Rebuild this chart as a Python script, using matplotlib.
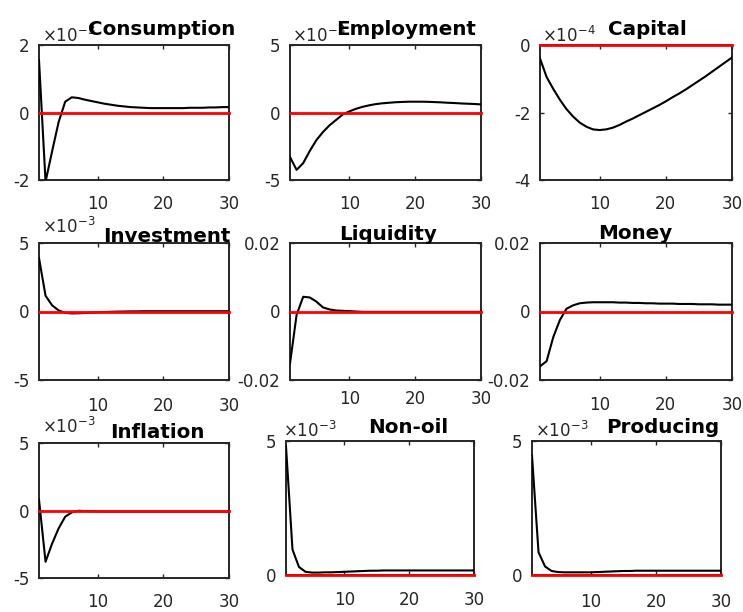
import numpy as np
import matplotlib
matplotlib.use("Agg")
import matplotlib.pyplot as plt

plt.rcParams["font.family"] = ["DejaVu Sans"]
plt.rcParams["axes.unicode_minus"] = False

# ---------------- data (impulse responses, horizon 1..30) ----------------
horizon = np.arange(1, 31)

# values in units of the panel's exponent (x10^-3, x10^-4, or raw)
consumption = [1.55, -2.05, -1.15, -0.28, 0.32, 0.45, 0.43, 0.38, 0.34, 0.30,
               0.26, 0.23, 0.20, 0.18, 0.16, 0.15, 0.14, 0.13, 0.13, 0.13,
               0.13, 0.13, 0.13, 0.14, 0.14, 0.14, 0.15, 0.15, 0.16, 0.16]
employment = [-3.3, -4.25, -3.75, -2.85, -2.05, -1.45, -0.95, -0.55, -0.15, 0.08,
              0.27, 0.42, 0.53, 0.62, 0.68, 0.72, 0.76, 0.78, 0.80, 0.80,
              0.80, 0.79, 0.77, 0.75, 0.72, 0.70, 0.67, 0.65, 0.63, 0.60]
capital = [-0.40, -0.95, -1.30, -1.62, -1.90, -2.12, -2.30, -2.42, -2.50, -2.52,
           -2.50, -2.45, -2.37, -2.27, -2.18, -2.08, -1.98, -1.88, -1.78, -1.67,
           -1.55, -1.44, -1.32, -1.19, -1.06, -0.93, -0.79, -0.65, -0.51, -0.37]
investment = [3.9, 1.15, 0.45, 0.08, -0.10, -0.14, -0.13, -0.11, -0.08, -0.06,
              -0.04, -0.02, -0.01, 0.00, 0.01, 0.01, 0.02, 0.02, 0.02, 0.02,
              0.02, 0.02, 0.02, 0.02, 0.02, 0.02, 0.02, 0.02, 0.02, 0.02]
liquidity = [-0.0152, -0.0010, 0.0043, 0.0041, 0.0029, 0.0012, 0.0006, 0.0003, 0.0002, 0.0001,
             0.0, -0.0001, -0.0001, -0.0001, -0.0001, -0.0001, -0.0001, -0.0001, -0.0001, -0.0001,
             -0.0001, -0.0001, -0.0001, -0.0001, -0.0001, -0.0001, -0.0001, -0.0001, -0.0001, -0.0001]
money = [-0.0160, -0.0145, -0.0075, -0.0025, 0.0008, 0.0018, 0.0024, 0.0026, 0.0027, 0.0027,
         0.0027, 0.0027, 0.0026, 0.0026, 0.0025, 0.0025, 0.0024, 0.0024, 0.0023, 0.0023,
         0.0023, 0.0022, 0.0022, 0.0022, 0.0021, 0.0021, 0.0021, 0.0020, 0.0020, 0.0020]
inflation = [0.8, -3.8, -2.45, -1.32, -0.46, -0.14, -0.02, -0.04, -0.06, -0.07,
             -0.08, -0.08, -0.08, -0.08, -0.08, -0.08, -0.08, -0.08, -0.08, -0.08,
             -0.08, -0.08, -0.08, -0.08, -0.08, -0.08, -0.08, -0.08, -0.08, -0.08]
non_oil = [4.8, 0.95, 0.30, 0.12, 0.09, 0.09, 0.10, 0.10, 0.11, 0.12,
           0.13, 0.14, 0.15, 0.16, 0.16, 0.17, 0.17, 0.17, 0.17, 0.17,
           0.17, 0.17, 0.17, 0.17, 0.17, 0.17, 0.17, 0.17, 0.17, 0.17]
producing = [4.45, 0.85, 0.32, 0.15, 0.11, 0.10, 0.10, 0.10, 0.10, 0.10,
             0.11, 0.12, 0.13, 0.14, 0.15, 0.15, 0.16, 0.16, 0.16, 0.16,
             0.16, 0.16, 0.16, 0.16, 0.16, 0.16, 0.16, 0.16, 0.16, 0.16]

titles = ["Consumption", "Employment", "Capital",
          "Investment", "Liquidity", "Money",
          "Inflation", "Non-oil", "Producing"]
series = [consumption, employment, capital,
          investment, liquidity, money,
          inflation, non_oil, producing]
y_limits = [(-2, 2), (-5, 5), (-4, 0),
            (-5, 5), (-0.02, 0.02), (-0.02, 0.02),
            (-5, 5), (0, 5), (0, 5)]
y_ticks = [[-2, 0, 2], [-5, 0, 5], [-4, -2, 0],
           [-5, 0, 5], [-0.02, 0, 0.02], [-0.02, 0, 0.02],
           [-5, 0, 5], [0, 5], [0, 5]]
y_tick_labels = [["-2", "0", "2"], ["-5", "0", "5"], ["-4", "-2", "0"],
                 ["-5", "0", "5"], ["-0.02", "0", "0.02"], ["-0.02", "0", "0.02"],
                 ["-5", "0", "5"], ["0", "5"], ["0", "5"]]
exponents = ["-3", "-3", "-4", "-3", None, None, "-3", "-3", "-3"]
x_ticks = [10, 20, 30]

# ---------------- layout (pixels in a 743x612 canvas) ----------------
W, H = 743, 612
axes_px = [(39, 45, 229, 180), (290, 45, 481, 180), (540, 45, 732, 180),
           (39, 243, 229, 380), (290, 243, 481, 380), (540, 243, 732, 380),
           (39, 443, 229, 578), (286, 441, 474, 575), (532, 441, 721, 575)]
title_px = [(162, 35), (406, 35), (647, 35),
            (167, 242), (388, 240), (635, 239),
            (157, 438), (408, 433), (663, 433)]
exp_px = [(42, 42), (292, 42), (542, 42),
          (42, 233), None, None,
          (42, 433), (283, 437), (535, 437)]
x_pads = [10.8, 10.8, 10.8, 12, 7, 11.5, 11, 11.5, 13]

fig = plt.figure(figsize=(W / 100, H / 100), dpi=100)
fig.patch.set_facecolor("white")

for i in range(9):
    l, t, r, b = axes_px[i]
    ax = fig.add_axes([l / W, 1 - b / H, (r - l) / W, (b - t) / H])
    ax.plot(horizon, series[i], color="black", lw=1.5, zorder=3)
    ax.axhline(0, color="#ff0000", lw=2.0, zorder=4, clip_on=False)
    ax.set_xlim(1, 30)
    ax.set_ylim(*y_limits[i])
    ax.set_xticks(x_ticks)
    ax.set_xticklabels([str(v) for v in x_ticks])
    ax.set_yticks(y_ticks[i])
    ax.set_yticklabels(y_tick_labels[i])
    ax.tick_params(direction="in", length=3, width=1, top=True, right=True,
                   labelsize=12, labelcolor="#262626", color="#262626")
    ax.tick_params(axis="x", pad=x_pads[i])
    ax.tick_params(axis="y", pad=7)
    for sp in ax.spines.values():
        sp.set_linewidth(1.4)
        sp.set_color("#262626")
    if exp_px[i] is not None and exponents[i] is not None:
        ex, ey = exp_px[i]
        fig.text(ex / W, 1 - ey / H, r"$\times10^{%s}$" % exponents[i],
                 ha="left", va="baseline", fontsize=12, color="#262626")
    tx, ty = title_px[i]
    fig.text(tx / W, 1 - ty / H, titles[i], ha="center", va="baseline",
             fontsize=14.3, fontweight="bold", color="black")

fig.savefig("out.png", dpi=100)
